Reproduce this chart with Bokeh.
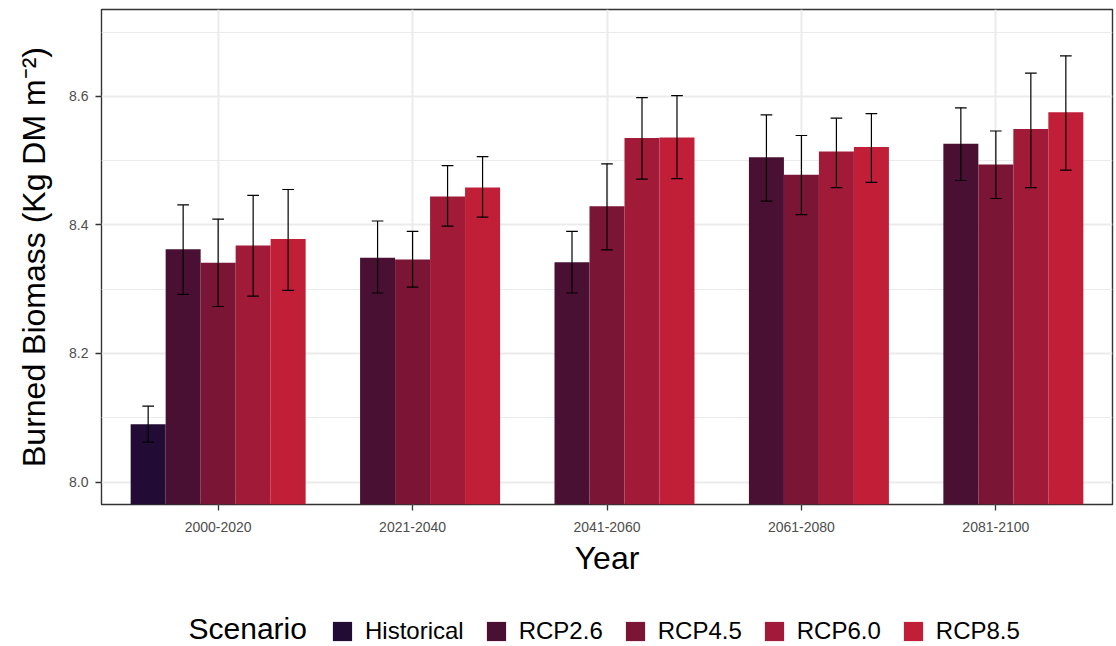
from bokeh.plotting import figure
from bokeh.layouts import column
from bokeh.models import (FactorRange, ColumnDataSource, Legend, LegendItem, Label,
                          Range1d, FixedTicker, PrintfTickFormatter)
from bokeh.transform import dodge
from bokeh.embed import file_html
from bokeh.resources import INLINE

# ---------------- data ----------------
periods = ["2000-2020", "2021-2040", "2041-2060", "2061-2080", "2081-2100"]
scenarios = ["Historical", "RCP2.6", "RCP4.5", "RCP6.0", "RCP8.5"]
colors = ["#220B34", "#4A1033", "#7A1535", "#A11A37", "#C11F38"]

historical_periods = ["2000-2020"]
historical_mean = [8.090]
historical_low = [8.062]
historical_high = [8.118]

rcp_periods = periods
rcp26_mean = [8.362, 8.349, 8.342, 8.505, 8.526]
rcp26_low = [8.292, 8.294, 8.294, 8.437, 8.469]
rcp26_high = [8.431, 8.406, 8.390, 8.571, 8.582]

rcp45_mean = [8.341, 8.346, 8.429, 8.478, 8.494]
rcp45_low = [8.273, 8.303, 8.361, 8.416, 8.441]
rcp45_high = [8.409, 8.390, 8.495, 8.539, 8.546]

rcp60_mean = [8.368, 8.444, 8.535, 8.514, 8.549]
rcp60_low = [8.289, 8.398, 8.471, 8.458, 8.458]
rcp60_high = [8.446, 8.492, 8.598, 8.566, 8.636]

rcp85_mean = [8.378, 8.458, 8.536, 8.521, 8.575]
rcp85_low = [8.298, 8.412, 8.472, 8.466, 8.485]
rcp85_high = [8.455, 8.506, 8.601, 8.573, 8.663]

y_ticks = [8.0, 8.2, 8.4, 8.6]
y_minor = [8.1, 8.3, 8.5, 8.7]

series = [
    (historical_periods, historical_mean, historical_low, historical_high),
    (rcp_periods, rcp26_mean, rcp26_low, rcp26_high),
    (rcp_periods, rcp45_mean, rcp45_low, rcp45_high),
    (rcp_periods, rcp60_mean, rcp60_low, rcp60_high),
    (rcp_periods, rcp85_mean, rcp85_low, rcp85_high),
]

FONT = "Liberation Sans"
BAR_W = 0.18
offsets = [-0.36, -0.18, 0.0, 0.18, 0.36]
CAP = 0.03

p = figure(width=1116, height=590,
           x_range=FactorRange(factors=periods, range_padding=0.04, range_padding_units="percent"),
           y_range=Range1d(7.965, 8.735),
           output_backend="svg", toolbar_location=None,
           min_border_left=101, min_border_right=4, min_border_top=9, min_border_bottom=86)

p.background_fill_color = "white"
p.border_fill_color = "white"
p.outline_line_color = "#333333"
p.outline_line_width = 1.4

for (pers, mean, low, high), off, col in zip(series, offsets, colors):
    src = ColumnDataSource(dict(period=pers, mean=mean, low=low, high=high))
    p.vbar(x=dodge("period", off, range=p.x_range), top="mean", bottom=0, width=BAR_W,
           source=src, fill_color=col, line_color=None)
    p.segment(x0=dodge("period", off, range=p.x_range), y0="low",
              x1=dodge("period", off, range=p.x_range), y1="high",
              source=src, line_color="black", line_width=1.2)
    for yc in ("low", "high"):
        p.segment(x0=dodge("period", off - CAP, range=p.x_range), y0=yc,
                  x1=dodge("period", off + CAP, range=p.x_range), y1=yc,
                  source=src, line_color="black", line_width=1.2)

# grids
p.xgrid.grid_line_color = "#EBEBEB"
p.xgrid.grid_line_width = 2
p.ygrid.grid_line_color = "#EBEBEB"
p.ygrid.grid_line_width = 2
p.ygrid.minor_grid_line_color = "#EBEBEB"
p.ygrid.minor_grid_line_width = 1.2
p.ygrid.level = "underlay"
p.xgrid.level = "underlay"

# axes
p.yaxis.ticker = FixedTicker(ticks=y_ticks, minor_ticks=y_minor)
p.yaxis.formatter = PrintfTickFormatter(format="%.1f")
p.yaxis.axis_label = "Burned Biomass (Kg DM m\u207b\u00b2)"
for ax in (p.xaxis[0], p.yaxis[0]):
    ax.axis_line_color = None
    ax.major_tick_line_color = "#333333"
    ax.major_tick_line_width = 1.3
    ax.major_tick_out = 6
    ax.major_tick_in = 0
    ax.minor_tick_line_color = None
    ax.major_label_text_font = FONT
    ax.major_label_text_font_size = "14px"
    ax.major_label_text_color = "#4D4D4D"
    ax.axis_label_text_font = FONT
    ax.axis_label_text_font_size = "32px"
    ax.axis_label_text_font_style = "normal"
    ax.axis_label_text_color = "black"
p.yaxis.major_label_standoff = 7
p.yaxis.axis_label_standoff = 14
p.xaxis.axis_label = "Year"
p.xaxis.major_label_standoff = 11
p.xaxis.axis_label_standoff = 5

# ---------------- legend strip ----------------
# (the column layout aligns this strip's frame with the main frame, which starts at x=101)
lg = figure(width=1116, height=56, x_range=Range1d(0, 1), y_range=Range1d(0, 1),
            output_backend="svg", toolbar_location=None,
            x_axis_location=None, y_axis_location=None, min_border=0)
lg.outline_line_color = None
lg.xgrid.visible = False
lg.ygrid.visible = False
lg.background_fill_color = "white"
lg.border_fill_color = "white"

key_renderers = []
for col in colors:
    # zero-height placeholder glyph: only used to draw the legend key
    key_renderers.append(lg.vbar(x=[0.5], top=[0], bottom=[0], width=0.0,
                                 fill_color=col, line_color=None))

items = [LegendItem(label=s, renderers=[r]) for s, r in zip(scenarios, key_renderers)]
legend = Legend(items=items, orientation="horizontal", location=(229, 1),
                glyph_width=24, glyph_height=24, label_standoff=11, spacing=20,
                padding=0, margin=0, border_line_color=None, background_fill_alpha=0,
                label_text_font=FONT, label_text_font_size="24px", label_text_color="black")
lg.add_layout(legend, "center")
lg.add_layout(Label(x=87, y=18, x_units="screen", y_units="screen", text="Scenario",
                    text_font=FONT, text_font_size="30px", text_color="black",
                    text_baseline="middle", text_align="left"))

layout = column(p, lg, spacing=0)
open("out.html", "w").write(file_html(layout, INLINE))
